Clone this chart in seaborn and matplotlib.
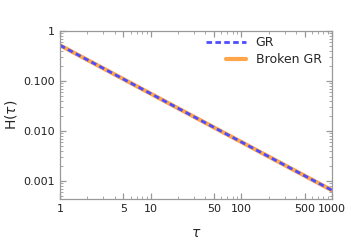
import matplotlib
matplotlib.use("Agg")
import matplotlib.pyplot as plt
import matplotlib.ticker as mticker
from matplotlib.legend_handler import HandlerLine2D
import seaborn as sns
import pandas as pd

tau = [1, 2, 5, 10, 20, 50, 100, 200, 500, 1000]
h_gr = [0.52, 0.266, 0.1095, 0.0560, 0.0286, 0.01178, 0.00603, 0.00308, 0.00127, 0.00065]
h_broken = [0.52, 0.266, 0.1095, 0.0560, 0.0286, 0.01178, 0.00603, 0.00308, 0.00127, 0.00065]

x_ticks = [1, 5, 10, 50, 100, 500, 1000]
x_labels = ["1", "5", "10", "50", "100", "500", "1000"]
y_ticks = [0.001, 0.01, 0.1, 1]
y_labels = ["0.001", "0.010", "0.100", "1"]


class ShortLine(HandlerLine2D):
    # half-length legend handle, right-aligned
    def create_artists(self, legend, orig_handle, xdescent, ydescent,
                       width, height, fontsize, trans):
        w = width * 0.5
        return super().create_artists(legend, orig_handle, xdescent - (width - w),
                                      ydescent, w, height, fontsize, trans)


sns.set_style("ticks")
plt.rcParams["font.family"] = ["DejaVu Sans"]

df = pd.DataFrame({"tau": tau + tau,
                   "H": h_broken + h_gr,
                   "model": ["Broken GR"] * len(tau) + ["GR"] * len(tau)})

fig, ax = plt.subplots(figsize=(3.47, 2.43), dpi=100)
fig.subplots_adjust(left=0.173, right=0.957, top=0.872, bottom=0.181)

sns.lineplot(data=df[df.model == "Broken GR"], x="tau", y="H", ax=ax,
             color="#ffa64d", lw=3.0, label="Broken GR")
sns.lineplot(data=df[df.model == "GR"], x="tau", y="H", ax=ax,
             color="#4d4dff", lw=2.0, ls=(0, (2.0, 1.2)), label="GR")

ax.set_xscale("log")
ax.set_yscale("log")
ax.set_xlim(1, 1000)
ax.set_ylim(10 ** -3.36, 1)

ax.xaxis.set_major_locator(mticker.FixedLocator(x_ticks))
ax.xaxis.set_major_formatter(mticker.FixedFormatter(x_labels))
ax.yaxis.set_major_locator(mticker.FixedLocator(y_ticks))
ax.yaxis.set_major_formatter(mticker.FixedFormatter(y_labels))
ax.xaxis.set_minor_locator(mticker.LogLocator(subs=range(2, 10)))
ax.yaxis.set_minor_locator(mticker.LogLocator(subs=range(2, 10)))
ax.xaxis.set_minor_formatter(mticker.NullFormatter())
ax.yaxis.set_minor_formatter(mticker.NullFormatter())

for s in ax.spines.values():
    s.set_visible(True)
    s.set_color("#999999")
    s.set_linewidth(0.9)
ax.tick_params(which="both", direction="in", top=True, right=True,
               color="#999999", labelsize=8, labelcolor="#222222")
ax.tick_params(which="major", length=4, width=0.9)
ax.tick_params(which="minor", length=2, width=0.6)

ax.set_xlabel(r"$\tau$", fontsize=10, labelpad=9)
ax.set_ylabel(r"H($\tau$)", fontsize=10, labelpad=3)

handles, labels = ax.get_legend_handles_labels()
h_gr_line = handles[labels.index("GR")]
h_br_line = handles[labels.index("Broken GR")]
ax.legend([h_gr_line, h_br_line], ["GR", "Broken GR"],
          loc="upper right", frameon=False, fontsize=9,
          handlelength=3.2, borderaxespad=0.0, labelspacing=0.35,
          handletextpad=0.8, bbox_to_anchor=(0.98, 1.0),
          handler_map={h_br_line: ShortLine()})

fig.savefig("out.png", dpi=100)
plt.close(fig)
